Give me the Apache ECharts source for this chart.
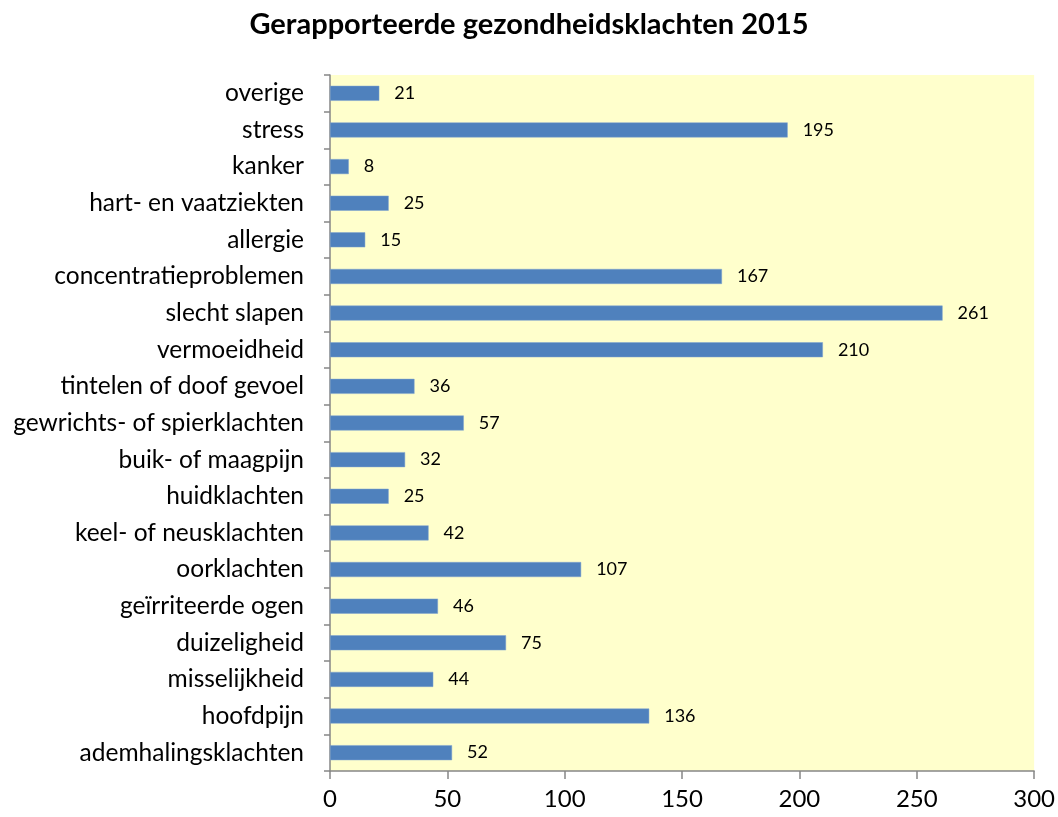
<!DOCTYPE html>
<html>
<head>
<meta charset="utf-8">
<script src="https://cdn.jsdelivr.net/npm/echarts@6/dist/echarts.min.js"></script>
<style>html,body{margin:0;padding:0;background:#fff;}#c{width:1058px;height:817px;}</style>
</head>
<body>
<div id="c"></div>
<script>
const title = 'Gerapporteerde gezondheidsklachten 2015';
const categories = ['ademhalingsklachten','hoofdpijn','misselijkheid','duizeligheid','geïrriteerde ogen','oorklachten','keel- of neusklachten','huidklachten','buik- of maagpijn','gewrichts- of spierklachten','tintelen of doof gevoel','vermoeidheid','slecht slapen','concentratieproblemen','allergie','hart- en vaatziekten','kanker','stress','overige'];
const values = [52,136,44,75,46,107,42,25,32,57,36,210,261,167,15,25,8,195,21];
const xTicks = [0,50,100,150,200,250,300];

const chart = echarts.init(document.getElementById('c'));
const font = 'Lato, "Open Sans", sans-serif';
chart.setOption({
  animation: false,
  title: {
    text: title, left: 'center', top: 5,
    textStyle: {fontFamily: font, fontSize: 29, fontWeight: 'bold', color: '#000'}
  },
  grid: {left: 330, right: 23, top: 75, bottom: 46, show: true, backgroundColor: '#FFFFCC', borderWidth: 0},
  xAxis: {
    type: 'value', min: xTicks[0], max: xTicks[xTicks.length-1], interval: 50,
    splitLine: {show: false},
    axisLine: {show: true, lineStyle: {color: '#868686', width: 1.5}},
    axisTick: {show: true, length: 8, lineStyle: {color: '#868686', width: 1.5}},
    axisLabel: {fontFamily: font, fontSize: 24, color: '#000', margin: 16}
  },
  yAxis: {
    type: 'category', data: categories,
    axisLine: {show: true, lineStyle: {color: '#868686', width: 1.5}},
    axisTick: {show: true, length: 6, lineStyle: {color: '#868686', width: 1.5}},
    axisLabel: {fontFamily: font, fontSize: 24.5, color: '#000', margin: 26}
  },
  series: [{
    type: 'bar', data: values, barWidth: 15,
    itemStyle: {color: '#4F81BD', borderColor: '#7FA3D0', borderWidth: 0.5},
    label: {show: true, position: 'right', distance: 15, fontFamily: font, fontSize: 18, color: '#000'}
  }]
});
</script>
</body>
</html>
